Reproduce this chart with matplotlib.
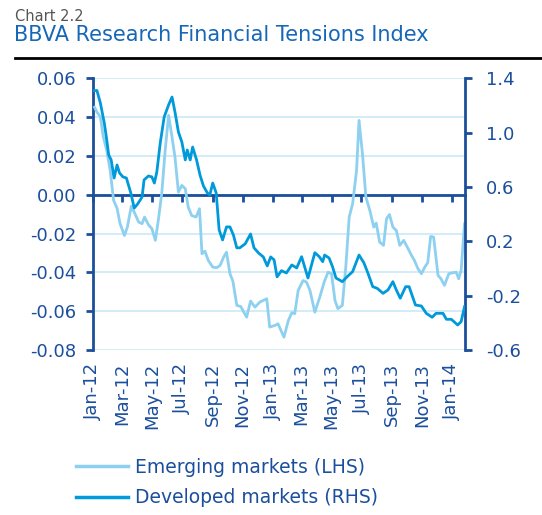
import pandas as pd
import matplotlib
matplotlib.use('Agg')
import matplotlib.pyplot as plt
import matplotlib.dates as mdates
from matplotlib.lines import Line2D
from matplotlib.ticker import FormatStrFormatter

plt.rcParams['font.family'] = 'DejaVu Sans'
plt.rcParams['axes.unicode_minus'] = False

# Emerging markets (eje izquierdo)
em_dates = ['2012-01-04', '2012-01-09', '2012-01-16', '2012-01-22', '2012-01-29', '2012-02-05',
            '2012-02-12', '2012-02-19', '2012-02-25', '2012-03-05', '2012-03-11', '2012-03-19',
            '2012-03-26', '2012-04-03', '2012-04-10', '2012-04-15', '2012-04-23', '2012-04-30',
            '2012-05-07', '2012-05-13', '2012-05-20', '2012-05-27', '2012-06-03', '2012-06-10',
            '2012-06-16', '2012-06-23', '2012-06-30', '2012-07-07', '2012-07-13', '2012-07-20',
            '2012-07-29', '2012-08-05', '2012-08-10', '2012-08-16', '2012-08-23', '2012-09-01',
            '2012-09-09', '2012-09-16', '2012-09-23', '2012-09-29', '2012-10-06', '2012-10-12',
            '2012-10-20', '2012-10-28', '2012-11-09', '2012-11-17', '2012-11-26', '2012-12-06',
            '2012-12-20', '2012-12-26', '2013-01-06', '2013-01-12', '2013-01-24', '2013-02-02',
            '2013-02-09', '2013-02-15', '2013-02-22', '2013-03-04', '2013-03-11', '2013-03-18',
            '2013-03-28', '2013-04-07', '2013-04-16', '2013-04-24', '2013-05-01', '2013-05-08',
            '2013-05-14', '2013-05-23', '2013-05-30', '2013-06-06', '2013-06-13', '2013-06-21',
            '2013-06-26', '2013-07-03', '2013-07-10', '2013-07-18', '2013-07-26', '2013-07-31',
            '2013-08-07', '2013-08-15', '2013-08-21', '2013-08-27', '2013-09-03', '2013-09-10',
            '2013-09-17', '2013-09-25', '2013-10-04', '2013-10-11', '2013-10-17', '2013-10-24',
            '2013-10-31', '2013-11-07', '2013-11-13', '2013-11-19', '2013-11-25', '2013-12-04',
            '2013-12-10', '2013-12-17', '2013-12-26', '2014-01-03', '2014-01-10', '2014-01-15',
            '2014-01-20', '2014-01-27']
em_values = [0.0451, 0.0426, 0.0401, 0.0297, 0.0228, 0.0125,
             -0.0029, -0.0070, -0.0148, -0.0210, -0.0167, -0.0059,
             -0.0095, -0.0141, -0.0149, -0.0115, -0.0155, -0.0175,
             -0.0235, -0.0132, 0.0005, 0.0228, 0.0409, 0.0297,
             0.0194, 0.0013, 0.0048, 0.0031, -0.0064, -0.0107,
             -0.0115, -0.0072, -0.0304, -0.0291, -0.0339, -0.0373,
             -0.0376, -0.0364, -0.0322, -0.0296, -0.0407, -0.0445,
             -0.0570, -0.0576, -0.0631, -0.0548, -0.0579, -0.0553,
             -0.0536, -0.0682, -0.0673, -0.0665, -0.0734, -0.0648,
             -0.0608, -0.0613, -0.0493, -0.0442, -0.0450, -0.0493,
             -0.0605, -0.0528, -0.0450, -0.0399, -0.0407, -0.0545,
             -0.0587, -0.0570, -0.0373, -0.0115, -0.0046, 0.0125,
             0.0383, 0.0211, -0.0012, -0.0081, -0.0167, -0.0146,
             -0.0244, -0.0261, -0.0124, -0.0102, -0.0167, -0.0184,
             -0.0261, -0.0235, -0.0278, -0.0313, -0.0339, -0.0381,
             -0.0407, -0.0373, -0.0350, -0.0215, -0.0218, -0.0416,
             -0.0433, -0.0467, -0.0407, -0.0402, -0.0399, -0.0433,
             -0.0390, -0.0149]

# Developed markets (eje derecho)
dm_dates = ['2012-01-04', '2012-01-09', '2012-01-16', '2012-01-24', '2012-01-29', '2012-02-02',
            '2012-02-07', '2012-02-13', '2012-02-19', '2012-02-24', '2012-03-02', '2012-03-09',
            '2012-03-18', '2012-03-25', '2012-04-01', '2012-04-10', '2012-04-14', '2012-04-23',
            '2012-04-30', '2012-05-05', '2012-05-10', '2012-05-17', '2012-05-25', '2012-06-03',
            '2012-06-10', '2012-06-16', '2012-06-23', '2012-06-30', '2012-07-07', '2012-07-11',
            '2012-07-17', '2012-07-22', '2012-07-30', '2012-08-06', '2012-08-13', '2012-08-21',
            '2012-08-26', '2012-09-01', '2012-09-08', '2012-09-14', '2012-09-21', '2012-09-29',
            '2012-10-06', '2012-10-13', '2012-10-20', '2012-10-26', '2012-11-06', '2012-11-17',
            '2012-11-24', '2012-12-03', '2012-12-13', '2012-12-21', '2012-12-28', '2013-01-04',
            '2013-01-10', '2013-01-19', '2013-01-29', '2013-02-09', '2013-02-19', '2013-03-01',
            '2013-03-14', '2013-03-28', '2013-04-06', '2013-04-13', '2013-04-17', '2013-04-26',
            '2013-05-03', '2013-05-10', '2013-05-23', '2013-06-02', '2013-06-13', '2013-06-26',
            '2013-07-06', '2013-07-14', '2013-07-24', '2013-08-02', '2013-08-14', '2013-08-24',
            '2013-09-03', '2013-09-10', '2013-09-18', '2013-09-29', '2013-10-06', '2013-10-19',
            '2013-10-31', '2013-11-10', '2013-11-22', '2013-11-30', '2013-12-14', '2013-12-21',
            '2013-12-31', '2014-01-13', '2014-01-20', '2014-01-27']
dm_values = [1.309, 1.310, 1.218, 1.071, 0.946, 0.835,
             0.799, 0.666, 0.762, 0.703, 0.674, 0.666,
             0.556, 0.445, 0.475, 0.526, 0.652, 0.681,
             0.674, 0.629, 0.710, 0.924, 1.115, 1.204,
             1.262, 1.152, 1.005, 0.931, 0.799, 0.872,
             0.799, 0.894, 0.799, 0.688, 0.607, 0.556,
             0.541, 0.629, 0.556, 0.284, 0.210, 0.306,
             0.306, 0.247, 0.152, 0.152, 0.181, 0.254,
             0.152, 0.115, 0.085, 0.019, 0.085, 0.063,
             -0.062, -0.016, -0.033, 0.026, 0.004, 0.087,
             -0.070, 0.116, 0.087, 0.050, 0.099, 0.077,
             0.013, -0.070, -0.097, -0.060, -0.023, 0.099,
             0.041, -0.033, -0.134, -0.146, -0.183, -0.158,
             -0.097, -0.158, -0.219, -0.134, -0.134, -0.269,
             -0.276, -0.330, -0.359, -0.330, -0.330, -0.374,
             -0.374, -0.416, -0.392, -0.281]

left_ticks = [0.06, 0.04, 0.02, 0.00, -0.02, -0.04, -0.06, -0.08]
right_ticks = [1.4, 1.0, 0.6, 0.2, -0.2, -0.6]

azul_osc = '#1B4F9C'
azul_em = '#8ED0F0'
azul_dm = '#0099DA'
rejilla = '#CFEAF7'

fig = plt.figure(figsize=(5.42, 5.15), dpi=100)
ax = fig.add_axes([0.1716, 0.3204, 0.6864, 0.5276])
ax2 = ax.twinx()

em_x = pd.to_datetime(em_dates)
dm_x = pd.to_datetime(dm_dates)

# rejilla del eje izquierdo
for t in left_ticks:
    ax.axhline(t, color=rejilla, lw=1.3, zorder=0)

ax.plot(em_x, em_values, color=azul_em, lw=2.0, zorder=3)
ax2.plot(dm_x, dm_values, color=azul_dm, lw=2.0, zorder=3)

ax.set_ylim(-0.08, 0.06)
ax.set_yticks(left_ticks)
ax.yaxis.set_major_formatter(FormatStrFormatter('%.2f'))
ax2.set_ylim(-0.6, 1.4)
ax2.set_yticks(right_ticks)
ax2.yaxis.set_major_formatter(FormatStrFormatter('%.1f'))

ax.set_xlim(pd.Timestamp('2012-01-01'), pd.Timestamp('2014-01-28'))
ax.xaxis.set_major_locator(mdates.MonthLocator(bymonth=[1, 3, 5, 7, 9, 11]))
ax.xaxis.set_major_formatter(mdates.DateFormatter('%b-%y'))

# eje x en el cero, etiquetas abajo
for a in (ax, ax2):
    a.spines['top'].set_visible(False)
ax.spines['bottom'].set_position(('data', 0))
ax.spines['bottom'].set_color(azul_osc)
ax.spines['bottom'].set_linewidth(2)
ax2.spines['bottom'].set_visible(False)
ax.spines['left'].set_color(azul_osc)
ax.spines['left'].set_linewidth(2)
ax2.spines['right'].set_color(azul_osc)
ax2.spines['right'].set_linewidth(2)
ax.spines['right'].set_visible(False)
ax2.spines['left'].set_visible(False)

ax.tick_params(axis='x', direction='out', length=5, width=2, color=azul_osc,
               labelcolor=azul_osc, labelsize=13, labelrotation=90, pad=116)
ax.tick_params(axis='y', direction='out', length=5, width=2, color=azul_osc,
               labelcolor=azul_osc, labelsize=13, pad=7)
ax2.tick_params(axis='y', direction='out', length=5, width=2, color=azul_osc,
                labelcolor=azul_osc, labelsize=13, pad=10)

# titulos
fig.text(0.028, 0.959, 'Chart 2.2', fontsize=10.5, color='#555555', va='baseline')
fig.text(0.026, 0.921, 'BBVA Research Financial Tensions Index', fontsize=15,
         color='#1767B8', va='baseline')
fig.add_artist(Line2D([0.028, 1.0], [0.888, 0.888], color='black', lw=2))

handles = [Line2D([], [], color=azul_em, lw=2.5), Line2D([], [], color=azul_dm, lw=2.5)]
fig.legend(handles, ['Emerging markets (LHS)', 'Developed markets (RHS)'],
           loc='upper left', bbox_to_anchor=(0.14, 0.111), frameon=False,
           fontsize=13.5, labelcolor=azul_osc, handlelength=2.8, handletextpad=0.35,
           labelspacing=0.62, borderpad=0, borderaxespad=0)

fig.savefig('out.png', dpi=100)
